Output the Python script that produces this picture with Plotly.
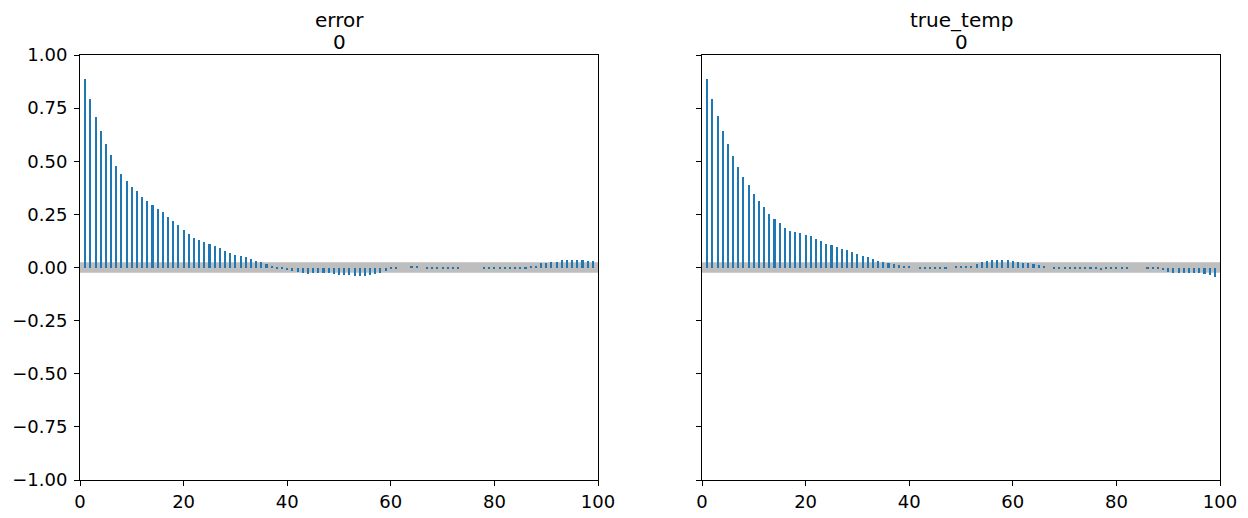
import plotly.graph_objects as go

lags = list(range(1, 100))

error_acf = [
    0.888, 0.794, 0.709, 0.644, 0.583, 0.531, 0.480, 0.442, 0.409, 0.381,
    0.358, 0.334, 0.311, 0.292, 0.273, 0.259, 0.236, 0.217, 0.198, 0.175,
    0.156, 0.138, 0.128, 0.119, 0.109, 0.100, 0.091, 0.077, 0.067, 0.058,
    0.053, 0.048, 0.039, 0.030, 0.025, 0.016, 0.006, -0.004, -0.006, -0.012,
    -0.015, -0.020, -0.025, -0.029, -0.027, -0.025, -0.025, -0.027, -0.029, -0.034,
    -0.034, -0.034, -0.038, -0.038, -0.038, -0.034, -0.029, -0.024, -0.015, -0.007,
    -0.004, 0.000, 0.000, 0.005, 0.005, 0.000, -0.005, -0.005, -0.005, -0.005,
    -0.005, -0.005, -0.005, 0.000, 0.000, 0.000, 0.000, -0.005, -0.005, -0.005,
    -0.005, -0.006, -0.006, -0.006, -0.006, -0.005, 0.005, 0.009, 0.020, 0.020,
    0.024, 0.024, 0.034, 0.034, 0.034, 0.034, 0.034, 0.029, 0.029,
]

true_temp_acf = [
    0.888, 0.794, 0.714, 0.644, 0.583, 0.527, 0.475, 0.428, 0.386, 0.344,
    0.311, 0.283, 0.250, 0.227, 0.208, 0.184, 0.170, 0.166, 0.161, 0.152,
    0.147, 0.133, 0.123, 0.109, 0.105, 0.095, 0.086, 0.081, 0.072, 0.062,
    0.053, 0.048, 0.039, 0.030, 0.026, 0.021, 0.016, 0.011, 0.006, 0.005,
    0.000, -0.005, -0.006, -0.006, -0.006, -0.006, -0.005, 0.000, 0.005, 0.005,
    0.005, 0.005, 0.016, 0.026, 0.031, 0.035, 0.035, 0.035, 0.035, 0.031,
    0.026, 0.021, 0.021, 0.016, 0.011, 0.006, 0.000, -0.005, -0.006, -0.008,
    -0.008, -0.008, -0.006, -0.008, -0.008, -0.008, -0.010, -0.008, -0.008, -0.008,
    -0.006, -0.005, 0.000, 0.000, 0.000, -0.005, -0.005, -0.008, -0.014, -0.020,
    -0.025, -0.025, -0.025, -0.025, -0.025, -0.025, -0.030, -0.036, -0.044,
]

panels = [("error", "0", error_acf), ("true_temp", "0", true_temp_acf)]
conf_band = 0.025
max_lag = 100
y_ticks = [-1.0, -0.75, -0.5, -0.25, 0.0, 0.25, 0.5, 0.75, 1.0]
x_ticks = [0, 20, 40, 60, 80, 100]

W, H = 1248, 518
ml, mr, mt, mb = 80, 28, 55, 38
plot_w = W - ml - mr
plot_h = H - mt - mb
left_dom = [0, 518 / plot_w]
right_dom = [(702 - ml) / plot_w, 1]

FONT = "DejaVu Sans"
fig = go.Figure()

for i, (name, sub, vals) in enumerate(panels):
    xa = "x" if i == 0 else "x2"
    ya = "y" if i == 0 else "y2"
    fig.add_trace(go.Bar(
        x=lags, y=vals, width=0.4, marker=dict(color="#1f77b4", line=dict(width=0)),
        xaxis=xa, yaxis=ya, showlegend=False, hoverinfo="skip",
    ))
    fig.add_shape(type="rect", xref=xa, yref=ya, x0=0, x1=max_lag,
                  y0=-conf_band, y1=conf_band, fillcolor="#bebebe",
                  line=dict(width=0), layer="below")
    dom = left_dom if i == 0 else right_dom
    cx = (dom[0] + dom[1]) / 2
    fig.add_annotation(text=name, x=cx, y=(plot_h + 35) / plot_h, xref="paper", yref="paper",
                       showarrow=False, yanchor="middle", xanchor="center",
                       font=dict(family=FONT, size=20, color="black"))
    fig.add_annotation(text=sub, x=cx, y=(plot_h + 13) / plot_h, xref="paper", yref="paper",
                       showarrow=False, yanchor="middle", xanchor="center",
                       font=dict(family=FONT, size=20, color="black"))

axis_common = dict(showline=True, mirror=True, linecolor="black", linewidth=1,
                   ticks="outside", ticklen=5, tickwidth=1, tickcolor="black",
                   showgrid=False, zeroline=False, automargin=False,
                   tickfont=dict(family=FONT, size=18, color="black"))

fig.update_layout(
    width=W, height=H, margin=dict(l=ml, r=mr, t=mt, b=mb, autoexpand=False),
    plot_bgcolor="white", paper_bgcolor="white", bargap=0,
    font=dict(family=FONT, size=18, color="black"),
    xaxis=dict(domain=left_dom, range=[0, max_lag], tickvals=x_ticks, anchor="y", **axis_common),
    xaxis2=dict(domain=right_dom, range=[0, max_lag], tickvals=x_ticks, anchor="y2", **axis_common),
    yaxis=dict(domain=[0, 1], range=[-1, 1], tickvals=y_ticks, tickformat=".2f", anchor="x",
               ticklabelstandoff=3, **axis_common),
    yaxis2=dict(domain=[0, 1], range=[-1, 1], tickvals=y_ticks, showticklabels=False, anchor="x2", **axis_common),
)

fig.write_html(
    "out.html",
    config={"displayModeBar": False},
    post_script=(
        "document.body.style.margin='0';document.body.style.padding='0';"
        "document.documentElement.style.overflow='hidden';"
        "var d=document.getElementById('{plot_id}');"
        "d.style.position='fixed';d.style.top='0px';d.style.left='0px';"
    ),
)
